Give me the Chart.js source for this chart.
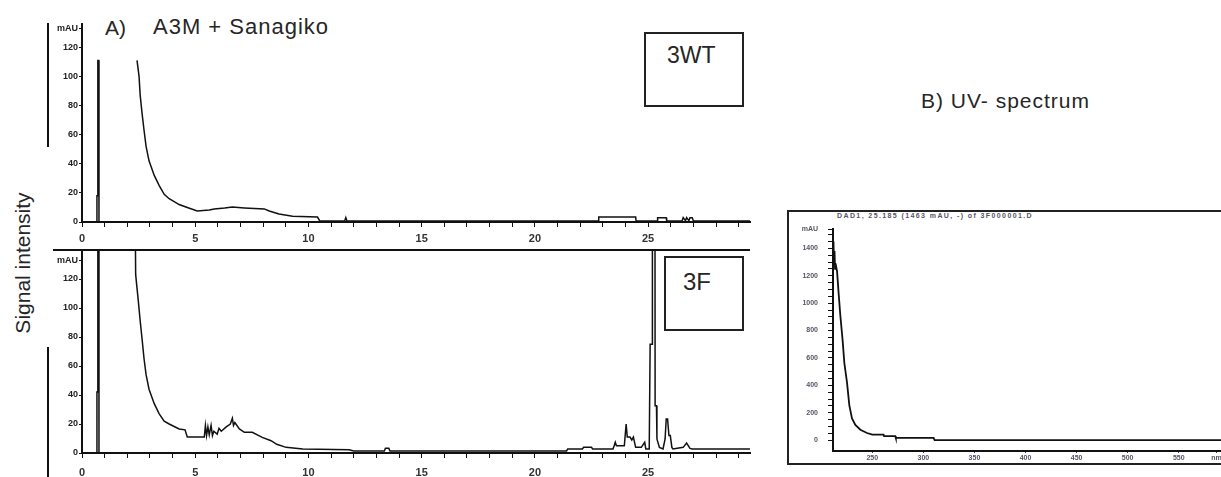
<!DOCTYPE html>
<html>
<head>
<meta charset="utf-8">
<script src="https://cdn.jsdelivr.net/npm/chart.js@4.4.1/dist/chart.umd.min.js"></script>
<style>
  html, body { margin: 0; padding: 0; background: #fff; }
  body { width: 1221px; height: 477px; position: relative; overflow: hidden;
         font-family: 'Liberation Sans', Arial, sans-serif; color: #262626; }
  canvas { position: absolute; }
  .txt { position: absolute; line-height: 1; white-space: nowrap; }
  .rule { position: absolute; background: #111; }
  .box { position: absolute; box-sizing: border-box; border: 2px solid #222; }
</style>
</head>
<body>

<div class="rule" style="left:47px;top:23px;width:2px;height:124px"></div>
<div class="rule" style="left:47px;top:347px;width:2px;height:130px"></div>
<div class="rule" style="left:53px;top:249px;width:697px;height:2px"></div>

<div class="txt" style="left:105px;top:17px;font-size:21px">A)</div>
<div class="txt" style="left:153px;top:16px;font-size:22px;letter-spacing:1px">A3M + Sanagiko</div>
<div class="txt" style="left:22px;top:263px;font-size:21px;transform:translate(-50%,-50%) rotate(-90deg)">Signal intensity</div>

<div class="box" style="left:644px;top:32px;width:100px;height:75px"></div>
<div class="txt" style="left:667px;top:44px;font-size:23px">3WT</div>
<div class="box" style="left:664px;top:256px;width:80px;height:75px"></div>
<div class="txt" style="left:683px;top:270px;font-size:24px">3F</div>

<div class="txt" style="left:921px;top:90px;font-size:21px;letter-spacing:1px">B) UV- spectrum</div>
<div class="box" style="left:787px;top:210px;width:460px;height:255px"></div>
<div class="txt" style="left:837px;top:212px;font-size:7px;font-weight:bold;color:#556;letter-spacing:1.4px">DAD1, 25.185 (1463 mAU, -) of 3F000001.D</div>

<canvas id="chartWT" width="720" height="240" style="left:40px;top:10px"></canvas>
<canvas id="chartF" width="720" height="237" style="left:40px;top:240px"></canvas>
<canvas id="chartUV" width="450" height="250" style="left:790px;top:215px"></canvas>

<script>
// ── data ──

// 3WT chromatogram: retention time (min) / signal (mAU); null = trace off scale
const wtTime = [
  0, 0.64, 0.66, 0.69, 0.70, 0.74, 0.75, 2.30, 2.35, 2.43,
  2.52, 2.57, 2.65, 2.74, 2.83, 2.96, 3.19, 3.41, 3.63, 3.85,
  4.29, 4.65, 5.09, 5.62, 5.84, 6.30, 6.64, 7.17, 8.05, 8.27,
  8.70, 9.30, 10.40, 10.50, 11.60, 11.65, 11.70, 22.80, 22.82, 24.45,
  24.47, 25.40, 25.42, 25.80, 25.82, 26.50, 26.55, 26.65, 26.70, 26.80,
  26.85, 26.95, 27.00, 29.50,
];
const wtSignal = [
  0, 0, 18, 18, 111, 111, 0, 0, null, 111,
  100, 87, 75, 63, 52, 42, 32, 25, 19, 16,
  12, 10, 7.6, 8.3, 9, 9.6, 10.3, 9.7, 9, 7.6,
  5.5, 4, 3.4, 0.7, 0.7, 3, 0.7, 0.7, 3.4, 3.4,
  0.7, 0.7, 3, 3, 0.7, 0.7, 3, 0.9, 3, 0.9,
  3, 3, 0.7, 0.7,
];

// 3F chromatogram
const fTime = [
  0, 0.64, 0.66, 0.69, 0.70, 0.74, 0.75, 2.25, 2.30, 2.33,
  2.37, 2.48, 2.57, 2.65, 2.74, 2.83, 2.96, 3.19, 3.41, 3.63,
  3.85, 4.29, 4.55, 4.65, 5.40, 5.45, 5.50, 5.56, 5.62, 5.70,
  5.76, 5.82, 5.97, 6.05, 6.15, 6.37, 6.55, 6.64, 6.69, 6.75,
  6.95, 7.17, 7.52, 7.96, 8.35, 8.60, 9.01, 9.75, 11.80, 12.00,
  13.35, 13.40, 13.55, 13.60, 21.40, 21.45, 22.10, 22.15, 22.50, 22.55,
  23.45, 23.50, 23.55, 23.60, 23.95, 24.03, 24.08, 24.20, 24.28, 24.35,
  24.45, 24.70, 24.85, 24.90, 25.05, 25.09, 25.18, 25.19, 25.29, 25.31,
  25.37, 25.39, 25.50, 25.66, 25.75, 25.80, 25.86, 25.92, 25.98, 26.05,
  26.10, 26.55, 26.70, 26.85, 26.95, 29.50,
];
const fSignal = [
  0, 0, 42, 42, 300, 300, 0, 0, null, 200,
  123, 106, 91, 79, 65, 54, 44, 34, 27, 22,
  20, 16.6, 16, 11, 11, 19, 12, 18, 12.5, 19,
  12, 15, 13, 17, 15, 18, 20, 24, 19, 21,
  16.6, 14.3, 14.3, 10.8, 8.5, 6, 3.9, 2.8, 2.2, 1.4,
  1.4, 3.2, 3.2, 1.4, 1.4, 2.8, 2.8, 3.9, 3.9, 2.8,
  2.8, 5, 7.4, 5, 5, 20, 11, 11, 9, 11,
  3.9, 3.9, 7.4, 2.8, 2.8, 75, 75, 500, 500, 32.6,
  32.6, 9.7, 3.9, 2.8, 9.7, 23.5, 23.5, 12, 12, 3.9,
  2.8, 3.9, 6.9, 3.2, 2.8, 2.8,
];

// UV spectrum: wavelength (nm) / absorbance (mAU)
const uvWavelength = [
  211.6, 211.8, 212.0, 212.3, 212.6, 213.0, 213.5, 214.0, 215.5, 217.1,
  218.7, 220.9, 222.6, 225.2, 227.5, 230.1, 233.4, 238.3, 244.8, 250.0,
  261.0, 261.5, 272.5, 273.0, 310.0, 311.0, 610.0,
];
const uvAbsorbance = [
  1400, 1450, 1330, 1420, 1300, 1380, 1250, 1290, 1230, 1063,
  908, 730, 563, 421, 254, 159, 111, 76, 52, 40,
  40, 29, 29, 16, 16, 0, 0,
];

// ticks
const chromXTicks = [0, 1, 2, 3, 4, 5, 6, 7, 8, 9, 10, 11, 12, 13, 14, 15, 16, 17, 18, 19,
  20, 21, 22, 23, 24, 25, 26, 27, 28, 29];
const chromXLabels = [0, 5, 10, 15, 20, 25];
const chromYTicks = [0, 20, 40, 60, 80, 100, 120];
const uvXLabels = [250, 300, 350, 400, 450, 500, 550];
const uvYTicks = [0, 50, 100, 150, 200, 250, 300, 350, 400, 450, 500, 550, 600, 650, 700,
  750, 800, 850, 900, 950, 1000, 1050, 1100, 1150, 1200, 1250, 1300, 1350, 1400, 1450, 1500];
const uvYLabels = [0, 200, 400, 600, 800, 1000, 1200, 1400];

const INK = '#111';
const TICK_TXT = '#333';

function toPoints(xs, ys) {
  return xs.map((x, i) => ({ x, y: ys[i] }));
}

// ── chromatogram panel ──

function renderChrom(id, time, signal, yMax, unitAt, pad, xAxisH, labelPad) {
  const ctx = document.getElementById(id);
  return new Chart(ctx, {
    type: 'line',
    data: {
      datasets: [{
        data: toPoints(time, signal),
        borderColor: INK,
        borderWidth: 1.5,
        pointRadius: 0,
        tension: 0,
        spanGaps: false,
      }],
    },
    options: {
      responsive: false,
      animation: false,
      events: [],
      layout: { padding: pad },
      plugins: { legend: { display: false }, tooltip: { enabled: false } },
      scales: {
        x: {
          type: 'linear', min: 0, max: 29.5,
          afterBuildTicks: s => { s.ticks = chromXTicks.map(v => ({ value: v })); },
          afterFit: s => { s.height = xAxisH; },
          border: { color: INK, width: 2 },
          grid: { drawOnChartArea: false, color: INK, tickLength: 5 },
          ticks: {
            autoSkip: false, maxRotation: 0, padding: labelPad, color: TICK_TXT,
            font: { family: 'Liberation Sans', size: 11, weight: 'bold' },
            callback: v => chromXLabels.includes(v) ? String(v) : '',
          },
        },
        y: {
          type: 'linear', min: 0, max: yMax,
          afterBuildTicks: s => { s.ticks = [...chromYTicks, unitAt].map(v => ({ value: v })); },
          afterFit: s => { s.width = 42; },
          border: { color: INK, width: 2 },
          grid: { drawOnChartArea: false, color: INK, tickLength: 3 },
          ticks: {
            autoSkip: false, padding: 1, color: '#222',
            font: { family: 'Liberation Sans', size: 9, weight: 'bold' },
            callback: v => v === unitAt ? 'mAU' : String(v),
          },
        },
      },
    },
  });
}

// ── UV spectrum panel ──

function renderUV() {
  const ctx = document.getElementById('chartUV');
  return new Chart(ctx, {
    type: 'line',
    data: {
      datasets: [{
        data: toPoints(uvWavelength, uvAbsorbance),
        borderColor: INK,
        borderWidth: 1.8,
        pointRadius: 0,
        tension: 0,
      }],
    },
    options: {
      responsive: false,
      animation: false,
      events: [],
      layout: { padding: { top: 11, right: 0, left: 0, bottom: 0 } },
      plugins: { legend: { display: false }, tooltip: { enabled: false } },
      scales: {
        x: {
          type: 'linear', min: 211.5, max: 610,
          afterBuildTicks: s => { s.ticks = [...uvXLabels, 587].map(v => ({ value: v })); },
          afterFit: s => { s.height = 12; },
          border: { color: INK, width: 2 },
          grid: { drawOnChartArea: false, color: INK, tickLength: 2 },
          ticks: {
            autoSkip: false, maxRotation: 0, padding: 1, color: '#556',
            font: { family: 'Liberation Sans', size: 7, weight: 'bold' },
            callback: v => v === 587 ? 'nm' : String(v),
          },
        },
        y: {
          type: 'linear', min: -78, max: 1540,
          afterBuildTicks: s => { s.ticks = [...uvYTicks, 1540].map(v => ({ value: v })); },
          afterFit: s => { s.width = 43; },
          border: { color: INK, width: 2 },
          grid: { drawOnChartArea: false, color: INK, tickLength: 5 },
          ticks: {
            autoSkip: false, padding: 10, color: '#556',
            font: { family: 'Liberation Sans', size: 7, weight: 'bold' },
            callback: v => v === 1540 ? 'mAU' : (uvYLabels.includes(v) ? String(v) : ''),
          },
        },
      },
    },
  });
}

renderChrom('chartWT', wtTime, wtSignal, 136, 133, { top: 14, right: 10, left: 0, bottom: 0 }, 28, 5);
renderChrom('chartF', fTime, fSignal, 140, 133, { top: 10, right: 10, left: 0, bottom: 0 }, 24, 8);
renderUV();
</script>
</body>
</html>
